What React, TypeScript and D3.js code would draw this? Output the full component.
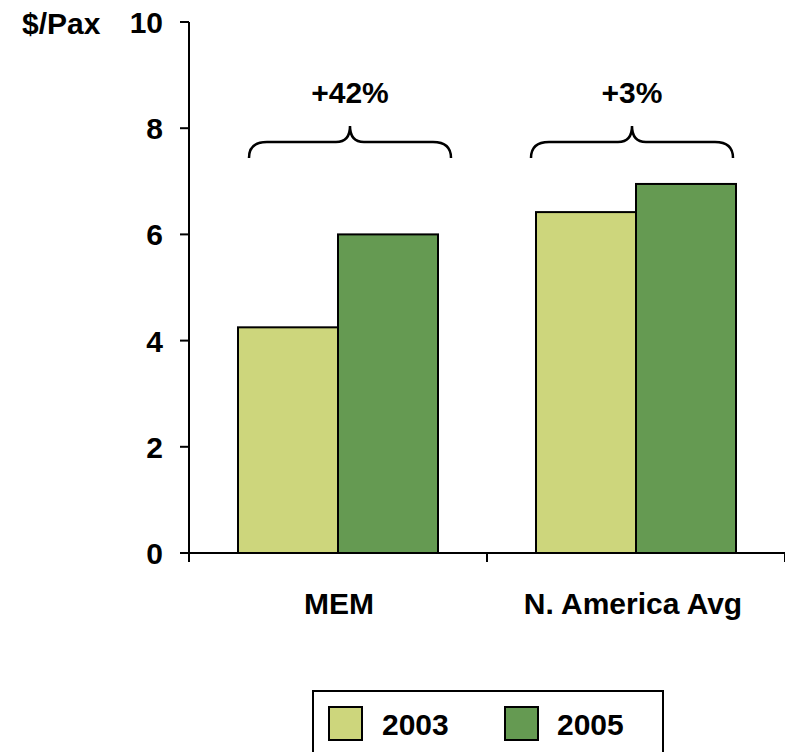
import React from "react";
import * as d3 from "d3";

const categories = ["MEM", "N. America Avg"];
const seriesNames = ["2003", "2005"];
const values2003 = [4.25, 6.42];
const values2005 = [6.0, 6.95];
const changeLabels = ["+42%", "+3%"];
const yTicks = [0, 2, 4, 6, 8, 10];
const colors = ["#cdd67c", "#659a52"];

export default function App() {
  const W = 785, H = 752;
  const left = 189, right = 785, top = 22, bottom = 553;
  const y = d3.scaleLinear().domain([0, 10]).range([bottom, top]);
  const x = d3.scaleBand<string>().domain(categories).range([left, right]).padding(0);
  const xs = d3.scaleBand<string>().domain(seriesNames).range([0, x.bandwidth()]).paddingInner(0).paddingOuter(0.49);
  const series = [values2003, values2005];
  const font = "'Liberation Sans', Arial, sans-serif";
  const braceOffsets = [12, -4];
  const fs = 30;

  const brace = (xc: number, half: number) => {
    const x0 = xc - half, x1 = xc + half;
    const yb = 158, yh = 142, yp = 126;
    return `M${x0},${yb} Q${x0},${yh} ${x0 + 18},${yh} L${xc - 14},${yh} Q${xc},${yh} ${xc},${yp} Q${xc},${yh} ${xc + 14},${yh} L${x1 - 18},${yh} Q${x1},${yh} ${x1},${yb}`;
  };

  return (
    <svg width={W} height={H} style={{ position: "absolute", left: 0, top: 0 }} fontFamily={font}>
      {/* bars */}
      {categories.map((c, i) =>
        seriesNames.map((s, j) => (
          <rect
            key={c + s}
            x={(x(c) as number) + (xs(s) as number)}
            y={y(series[j][i])}
            width={xs.bandwidth()}
            height={y(0) - y(series[j][i])}
            fill={colors[j]}
            stroke="#000"
            strokeWidth={2}
          />
        ))
      )}
      {/* y axis */}
      <line x1={left} x2={left} y1={top} y2={bottom} stroke="#000" strokeWidth={2} />
      {yTicks.map((t) => (
        <g key={t}>
          <line x1={left - 9} x2={left} y1={y(t)} y2={y(t)} stroke="#000" strokeWidth={2} />
          <text x={163} y={y(t) + 11} textAnchor="end" fontSize={fs} fontWeight="bold">{t}</text>
        </g>
      ))}
      <text x={22} y={34} fontSize={fs} fontWeight="bold">$/Pax</text>
      {/* x axis */}
      <line x1={left - 9} x2={right} y1={bottom} y2={bottom} stroke="#000" strokeWidth={2} />
      {[...categories.map((c) => x(c) as number), right].map((v, i) => (
        <line key={i} x1={v} x2={v} y1={bottom} y2={bottom + 9} stroke="#000" strokeWidth={2} />
      ))}
      {categories.map((c, i) => (
        <text key={c} x={(x(c) as number) + x.bandwidth() / 2 + (i === 0 ? 1 : -3)} y={614} textAnchor="middle" fontSize={fs} fontWeight="bold">{c}</text>
      ))}
      {/* braces */}
      {categories.map((c, i) => {
        const xc = (x(c) as number) + x.bandwidth() / 2 + braceOffsets[i];
        return (
          <g key={c + "b"}>
            <path d={brace(xc, 101)} fill="none" stroke="#000" strokeWidth={2.5} />
            <text x={xc} y={103} textAnchor="middle" fontSize={fs} fontWeight="bold">{changeLabels[i]}</text>
          </g>
        );
      })}
      {/* legend */}
      <rect x={313} y={691} width={350} height={80} fill="#fff" stroke="#000" strokeWidth={2} />
      {seriesNames.map((s, j) => (
        <g key={s}>
          <rect x={329 + j * 176} y={707} width={33} height={33} fill={colors[j]} stroke="#000" strokeWidth={2} />
          <text x={382 + j * 175} y={735} fontSize={fs} fontWeight="bold">{s}</text>
        </g>
      ))}
    </svg>
  );
}
